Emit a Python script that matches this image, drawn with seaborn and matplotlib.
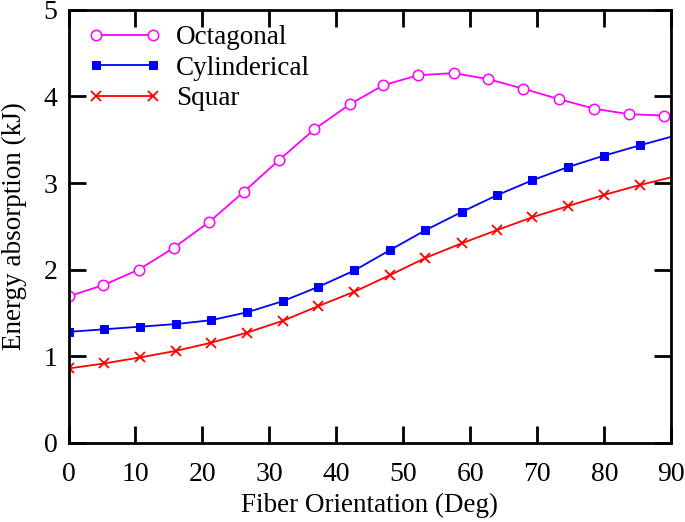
import numpy as np
import pandas as pd
import matplotlib
matplotlib.use("Agg")
import matplotlib.pyplot as plt
import seaborn as sns

# values (last point of each series is the line end at 90, no marker)
oct_x = [0, 5.2, 10.5, 15.7, 21.0, 26.2, 31.5, 36.7, 42.0, 47.0, 52.2, 57.5, 62.7, 67.9, 73.2, 78.4, 83.7, 88.9, 90]
oct_y = [1.69, 1.82, 2.0, 2.25, 2.55, 2.9, 3.27, 3.62, 3.91, 4.13, 4.245, 4.27, 4.2, 4.09, 3.97, 3.86, 3.795, 3.78, 3.78]

cyl_x = [0, 5.3, 10.7, 16.0, 21.3, 26.6, 32.0, 37.3, 42.7, 48.0, 53.3, 58.7, 64.0, 69.2, 74.6, 79.9, 85.3, 90]
cyl_y = [1.28, 1.31, 1.34, 1.37, 1.415, 1.505, 1.635, 1.80, 1.99, 2.225, 2.455, 2.665, 2.86, 3.03, 3.185, 3.315, 3.435, 3.535]

sq_x = [0, 5.3, 10.7, 16.0, 21.3, 26.6, 32.0, 37.3, 42.7, 48.0, 53.3, 58.7, 64.0, 69.2, 74.6, 79.9, 85.3, 90]
sq_y = [0.857, 0.915, 0.985, 1.06, 1.155, 1.27, 1.408, 1.578, 1.745, 1.936, 2.135, 2.303, 2.457, 2.603, 2.734, 2.861, 2.977, 3.066]

sns.set_style("ticks")
plt.rcParams['font.family'] = ['Liberation Serif', 'DejaVu Serif']
plt.rcParams['font.size'] = 20
plt.rcParams['text.color'] = 'black'
plt.rcParams['axes.labelcolor'] = 'black'

fig = plt.figure(figsize=(6.85, 5.22), dpi=100)
ax = fig.add_axes([0.1, 0.152, 0.88, 0.829])

sns.lineplot(x=oct_x, y=oct_y, ax=ax, color='#FF00FF', lw=1.3, marker='o', ms=7.5,
             mfc='white', mec='#FF00FF', mew=1.1, markevery=list(range(len(oct_x) - 1)),
             label='Octagonal', sort=False, estimator=None)
sns.lineplot(x=cyl_x, y=cyl_y, ax=ax, color='#0000FF', lw=1.3, marker='s', ms=5.5,
             mfc='#0000FF', mec='#0000FF', markevery=list(range(len(cyl_x) - 1)),
             label='Cylinderical', sort=False, estimator=None)
sns.lineplot(x=sq_x, y=sq_y, ax=ax, color='#FF0000', lw=1.3, marker='x', ms=7.5,
             mec='#FF0000', mew=1.3, markevery=list(range(len(sq_x) - 1)),
             label='Squar', sort=False, estimator=None)

ax.set_xlim(0, 90)
ax.set_ylim(0, 5)
ax.set_xticks(range(0, 91, 10))
ax.set_yticks(range(0, 6))
ax.tick_params(direction='in', length=12, width=2, top=True, right=True,
               labelsize=20, colors='black')
ax.tick_params(axis='x', pad=14)
ax.tick_params(axis='y', pad=8)
for s in ax.spines.values():
    s.set_linewidth(2)
    s.set_color('black')

ax.set_xlabel('Fiber Orientation (Deg)', fontsize=19.5, labelpad=4, color='black')
ax.set_ylabel('Energy absorption (kJ)', fontsize=19.5, labelpad=12, color='black')

leg = ax.legend(loc='upper left', bbox_to_anchor=(0.032, 0.964), frameon=False,
                numpoints=2, handlelength=2.7, fontsize=19.5, labelspacing=0.2,
                borderpad=0, borderaxespad=0, handletextpad=0.55)
for t in leg.get_texts():
    t.set_color('black')

fig.savefig('out.png', dpi=100)
